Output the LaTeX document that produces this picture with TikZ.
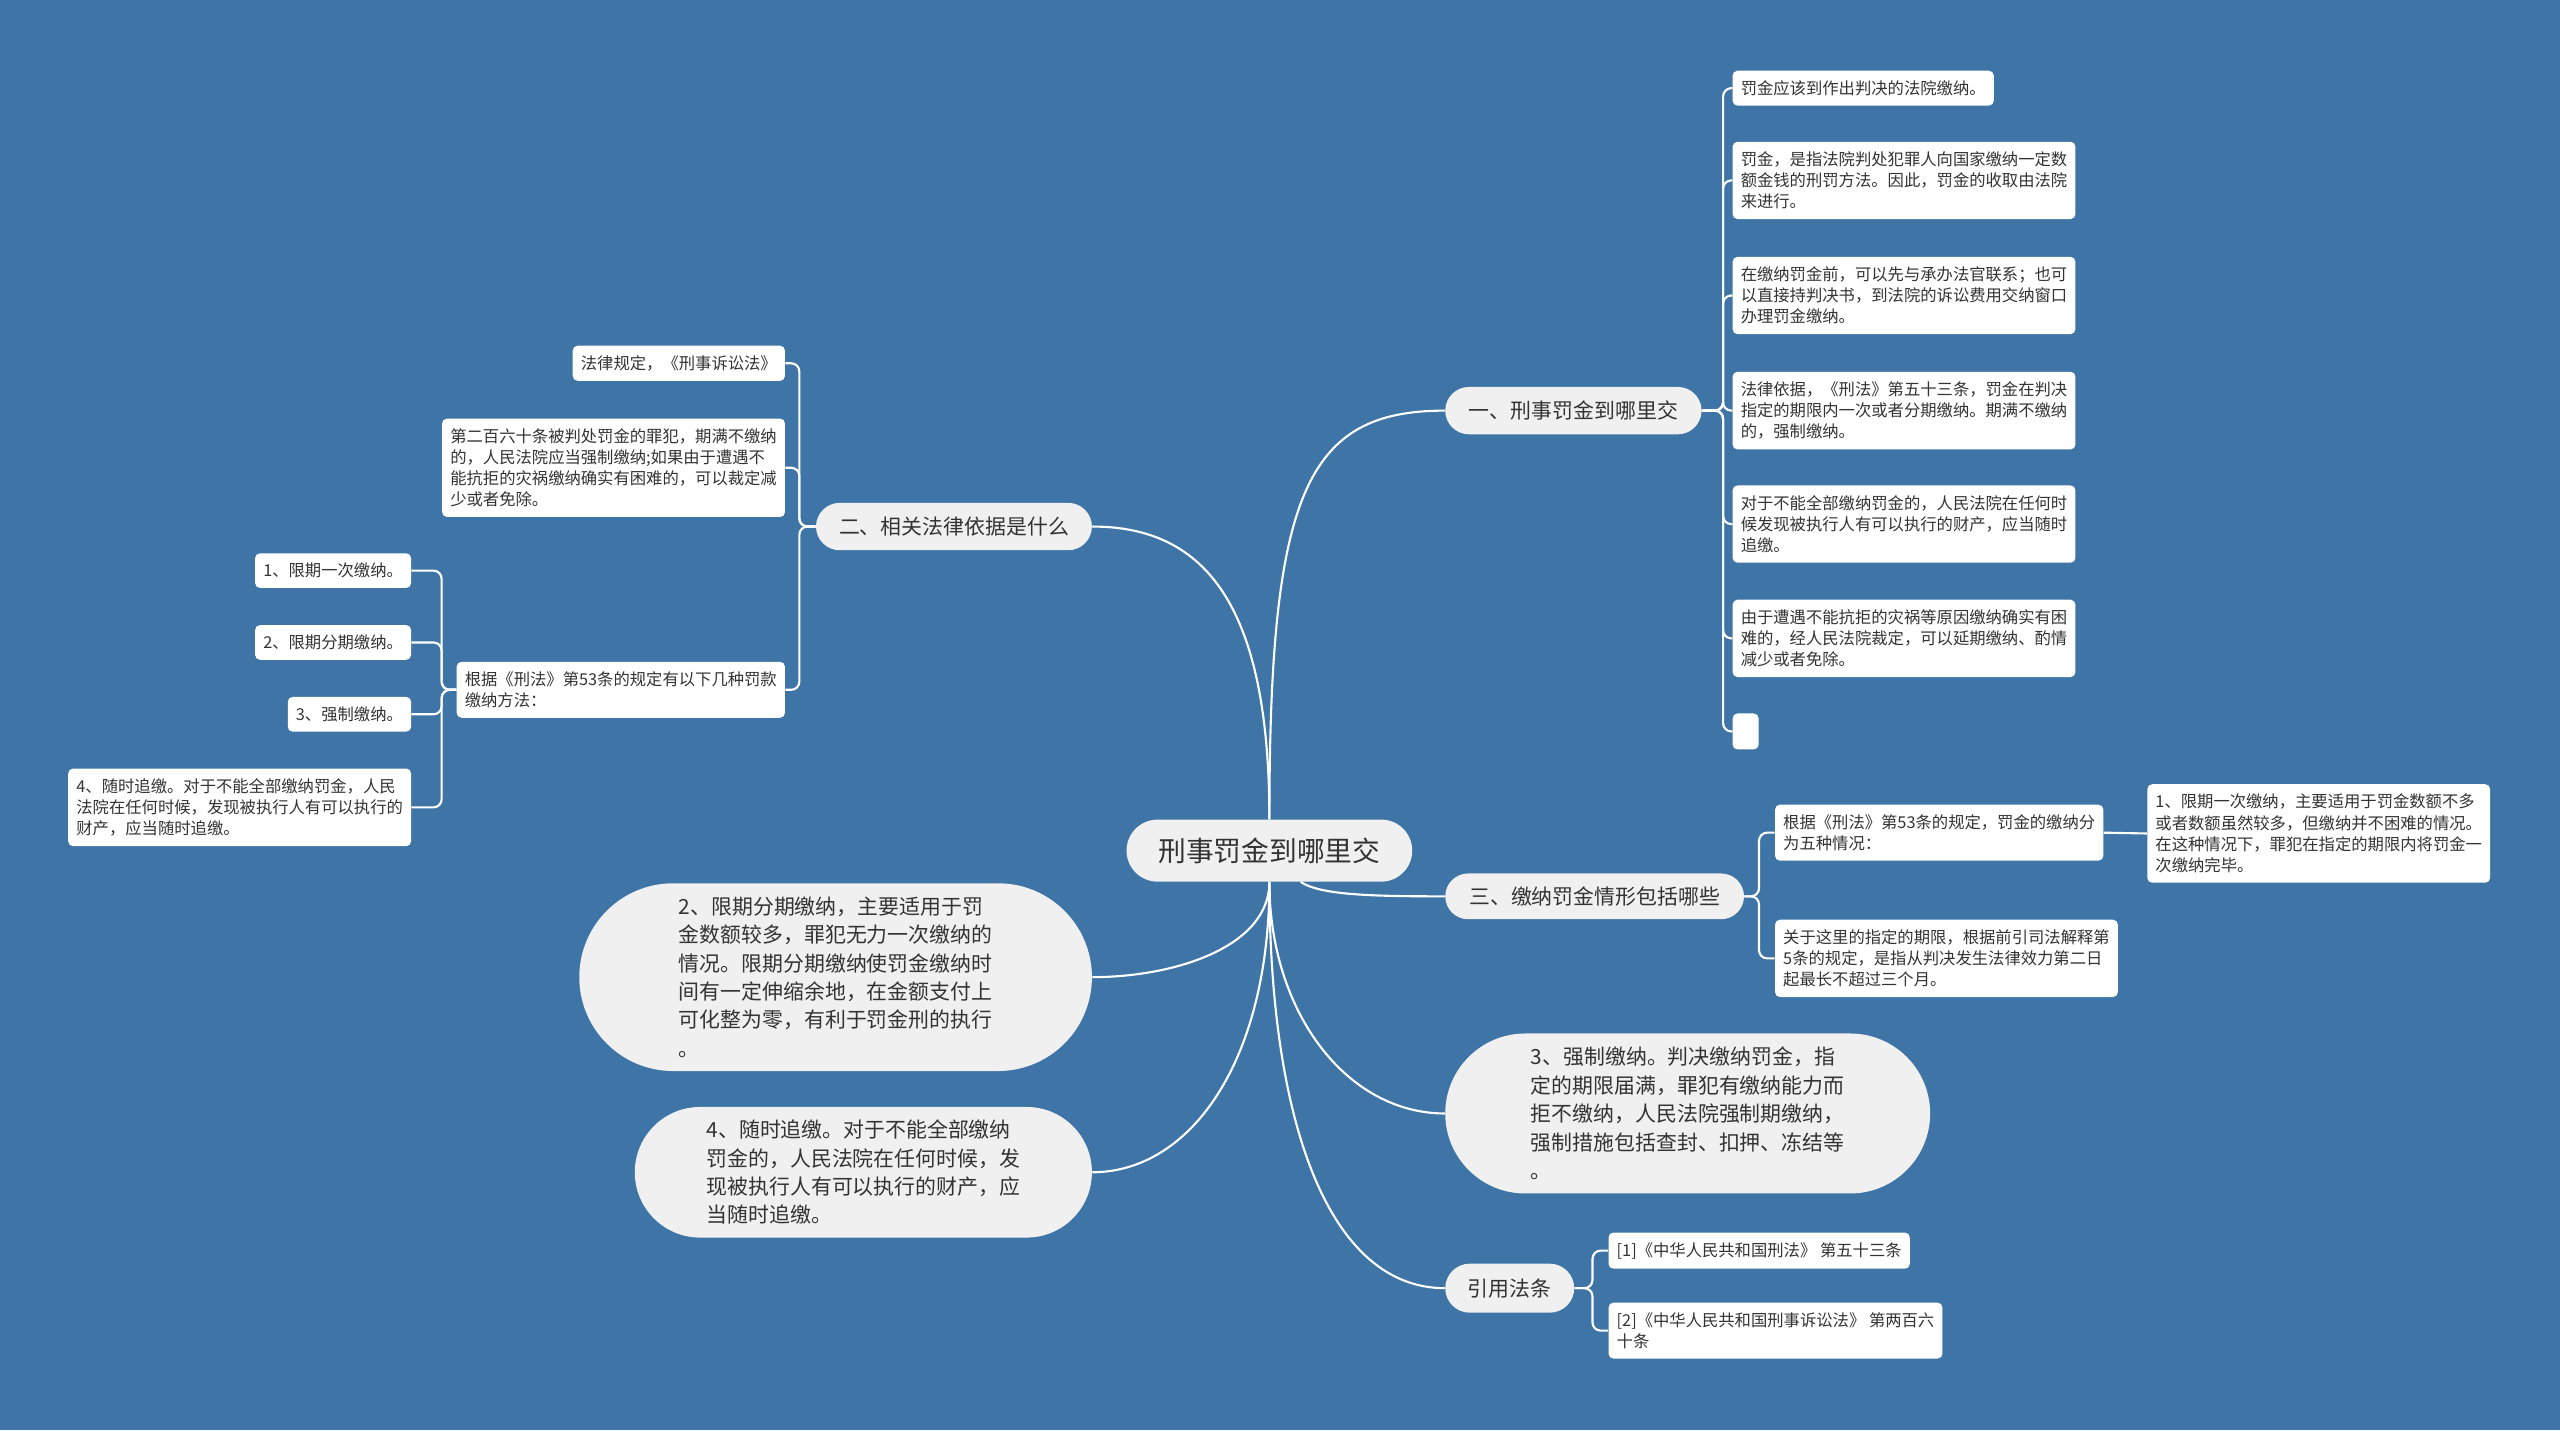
\documentclass[tikz,border=0pt]{standalone}
\usepackage{fontspec}
\setmainfont{Noto Sans CJK SC}
\usetikzlibrary{shapes.misc,calc}
\definecolor{mapblue}{RGB}{62,116,166}
\definecolor{pillgray}{RGB}{240,240,240}
\definecolor{inkgray}{RGB}{51,51,51}
\tikzset{
  link/.style={white, line width=1.3pt, rounded corners=5pt},
  trunk/.style={white, line width=1.3pt},
  pill/.style={rounded rectangle, fill=pillgray, text=inkgray, inner sep=0pt,
               font=\fontsize{12.8}{16}\selectfont},
  bigpill/.style={pill, align=left, font=\fontsize{12.8}{17.4}\selectfont},
  leaf/.style={fill=white, rounded corners=3pt, text=inkgray, align=left,
               inner xsep=5pt, inner ysep=6pt, font=\fontsize{10}{13}\selectfont},
}

\begin{document}
\begin{tikzpicture}[x=1pt, y=-1pt]
  \fill[mapblue] (0,0) rectangle (1568,876);

  % centre and main branches
  \node[pill, minimum width=175pt, minimum height=38pt, font=\fontsize{17}{20}\selectfont] (root) at (777.5,521) {刑事罚金到哪里交};
  \node[pill, minimum width=157pt, minimum height=29pt, anchor=west] (b1) at (885,251.5) {一、刑事罚金到哪里交};
  \node[pill, minimum width=169pt, minimum height=29pt, anchor=east] (b2) at (669,322.5) {二、相关法律依据是什么};
  \node[pill, minimum width=183pt, minimum height=28pt, anchor=west] (b3) at (885,549) {三、缴纳罚金情形包括哪些};
  \node[bigpill, minimum width=314pt, minimum height=115pt, anchor=east] (b4) at (669,598.5) {2、限期分期缴纳，主要适用于罚\\金数额较多，罪犯无力一次缴纳的\\情况。限期分期缴纳使罚金缴纳时\\间有一定伸缩余地，在金额支付上\\可化整为零，有利于罚金刑的执行\\。};
  \node[bigpill, minimum width=280pt, minimum height=80pt, anchor=east] (b5) at (669,718) {4、随时追缴。对于不能全部缴纳\\罚金的，人民法院在任何时候，发\\现被执行人有可以执行的财产，应\\当随时追缴。};
  \node[bigpill, minimum width=297pt, minimum height=98pt, anchor=west] (b6) at (885,682) {3、强制缴纳。判决缴纳罚金，指\\定的期限届满，罪犯有缴纳能力而\\拒不缴纳，人民法院强制期缴纳，\\强制措施包括查封、扣押、冻结等\\。};
  \node[pill, minimum width=79pt, minimum height=30pt, anchor=west] (b7) at (885,789) {引用法条};

  % branch one
  \node[leaf, anchor=west] (c1) at (1061,54) {罚金应该到作出判决的法院缴纳。};
  \node[leaf, anchor=west] (c2) at (1061,110.5) {罚金，是指法院判处犯罪人向国家缴纳一定数\\额金钱的刑罚方法。因此，罚金的收取由法院\\来进行。};
  \node[leaf, anchor=west] (c3) at (1061,181) {在缴纳罚金前，可以先与承办法官联系；也可\\以直接持判决书，到法院的诉讼费用交纳窗口\\办理罚金缴纳。};
  \node[leaf, anchor=west] (c4) at (1061,251.5) {法律依据，《刑法》第五十三条，罚金在判决\\指定的期限内一次或者分期缴纳。期满不缴纳\\的，强制缴纳。};
  \node[leaf, anchor=west] (c5) at (1061,321) {对于不能全部缴纳罚金的，人民法院在任何时\\候发现被执行人有可以执行的财产，应当随时\\追缴。};
  \node[leaf, anchor=west] (c6) at (1061,391) {由于遭遇不能抗拒的灾祸等原因缴纳确实有困\\难的，经人民法院裁定，可以延期缴纳、酌情\\减少或者免除。};
  \node[leaf, anchor=west, minimum width=16pt, minimum height=22pt, inner sep=0pt] (c7) at (1061,448) {};

  % branch two
  \node[leaf, anchor=east] (l1) at (481,222.5) {法律规定，《刑事诉讼法》};
  \node[leaf, anchor=east] (l2) at (481,286.5) {第二百六十条被判处罚金的罪犯，期满不缴纳\\的，人民法院应当强制缴纳;如果由于遭遇不\\能抗拒的灾祸缴纳确实有困难的，可以裁定减\\少或者免除。};
  \node[leaf, anchor=east] (l3) at (481,422.5) {根据《刑法》第53条的规定有以下几种罚款\\缴纳方法：};
  \node[leaf, anchor=east] (s1) at (252,349.5) {1、限期一次缴纳。};
  \node[leaf, anchor=east] (s2) at (252,393.5) {2、限期分期缴纳。};
  \node[leaf, anchor=east] (s3) at (252,437.5) {3、强制缴纳。};
  \node[leaf, anchor=east] (s4) at (252,494.5) {4、随时追缴。对于不能全部缴纳罚金，人民\\法院在任何时候，发现被执行人有可以执行的\\财产，应当随时追缴。};

  % branch three
  \node[leaf, anchor=west] (d1) at (1087,510) {根据《刑法》第53条的规定，罚金的缴纳分\\为五种情况：};
  \node[leaf, anchor=west] (d2) at (1087,587) {关于这里的指定的期限，根据前引司法解释第\\5条的规定，是指从判决发生法律效力第二日\\起最长不超过三个月。};
  \node[leaf, anchor=west] (e1) at (1315,510.5) {1、限期一次缴纳，主要适用于罚金数额不多\\或者数额虽然较多，但缴纳并不困难的情况。\\在这种情况下，罪犯在指定的期限内将罚金一\\次缴纳完毕。};

  % references
  \node[leaf, anchor=west] (r1) at (985,766) {[1]《中华人民共和国刑法》 第五十三条};
  \node[leaf, anchor=west] (r2) at (985,815) {[2]《中华人民共和国刑事诉讼法》 第两百六\\十条};

  % connectors
  \draw[trunk] (root.north) .. controls +(0,-200) and +(-85,0) .. (b1.west);
  \draw[trunk] (root.north) .. controls +(0,-130) and +(70,0) .. (b2.east);
  \draw[trunk] (root.-45) .. controls +(12,8) and +(-45,0) .. (b3.west);
  \draw[trunk] (root.south) .. controls +(0,40) and +(50,0) .. (b4.east);
  \draw[trunk] (root.south) .. controls +(0,110) and +(60,0) .. (b5.east);
  \draw[trunk] (root.south) .. controls +(0,80) and +(-60,0) .. (b6.west);
  \draw[trunk] (root.south) .. controls +(0,150) and +(-70,0) .. (b7.west);

  \foreach \c in {c1,c2,c3,c4,c5,c6,c7}
    \draw[link] (b1.east) -- ++(13,0) |- (\c.west);
  \foreach \c in {l1,l2,l3}
    \draw[link] (b2.west) -- ++(-10,0) |- (\c.east);
  \foreach \c in {s1,s2,s3,s4}
    \draw[link] (l3.west) -- ++(-9,0) |- (\c.east);
  \foreach \c in {d1,d2}
    \draw[link] (b3.east) -- ++(9,0) |- (\c.west);
  \draw[link] (d1.east) -- (e1.west);
  \foreach \c in {r1,r2}
    \draw[link] (b7.east) -- ++(11,0) |- (\c.west);
\end{tikzpicture}
\end{document}
